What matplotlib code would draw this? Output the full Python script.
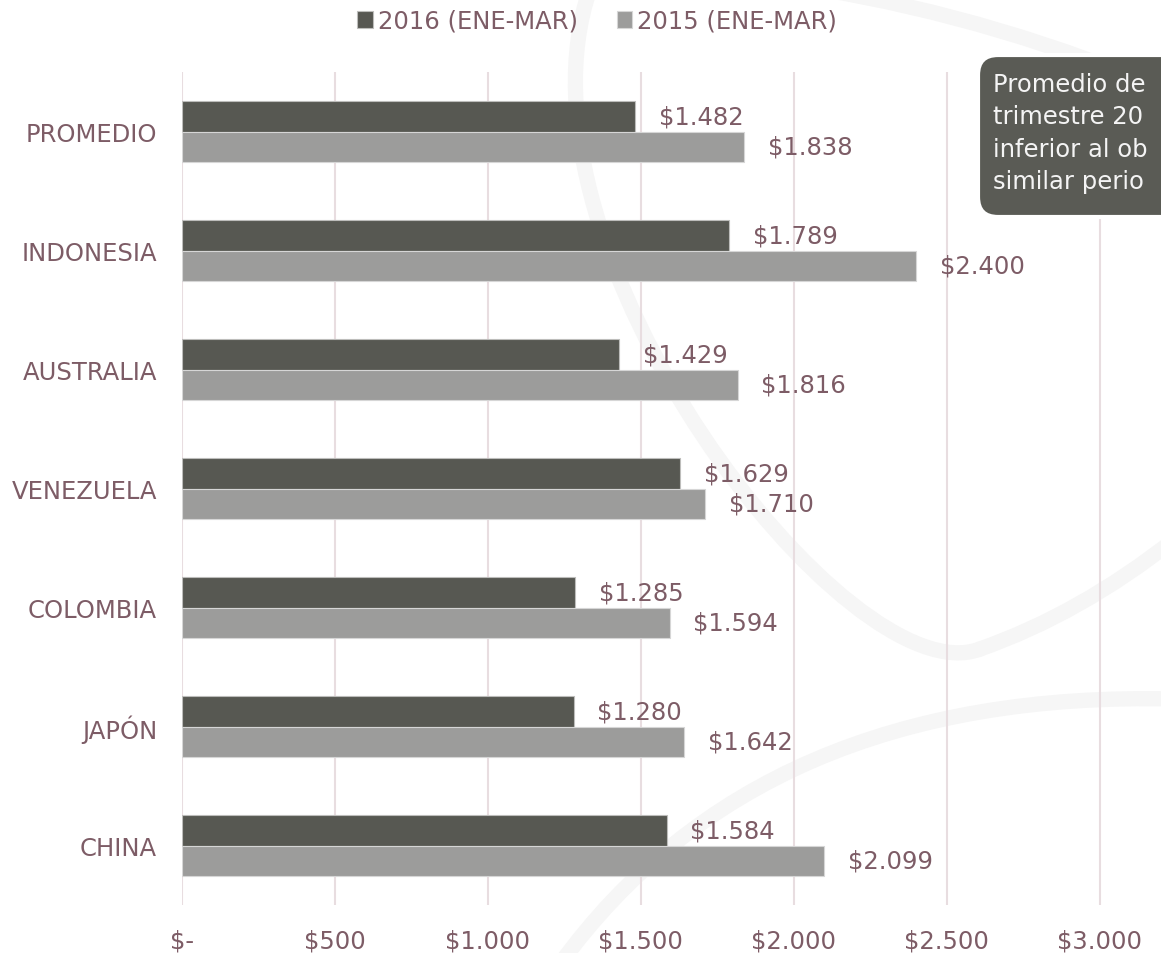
import numpy as np
import matplotlib
matplotlib.use("Agg")
import matplotlib.pyplot as plt
from matplotlib.path import Path
from matplotlib.patches import PathPatch, FancyBboxPatch

# data
paises = ["PROMEDIO", "INDONESIA", "AUSTRALIA", "VENEZUELA", "COLOMBIA", "JAPÓN", "CHINA"]
v2016 = [1482, 1789, 1429, 1629, 1285, 1280, 1584]
v2015 = [1838, 2400, 1816, 1710, 1594, 1642, 2099]
serie2016 = "2016 (ENE-MAR)"
serie2015 = "2015 (ENE-MAR)"
xticks = [0, 500, 1000, 1500, 2000, 2500, 3000]
# the callout is cut by the right edge in the original, only this part shows
nota = ["Promedio de", "trimestre 20", "inferior al ob", "similar perio"]

txt = "#7d5c66"
oscuro = "#575852"
claro = "#9c9c9b"
grid = "#e8dde0"
fs = 17.5

plt.rcParams["font.family"] = ["DejaVu Sans"]

W, H = 1161, 954
fig = plt.figure(figsize=(W / 100, H / 100), dpi=100)

# background layer in pixel coords (watermark)
bg = fig.add_axes([0, 0, 1, 1], zorder=0)
bg.set_xlim(0, W)
bg.set_ylim(H, 0)
bg.axis("off")

wm = "#f6f6f6"
curvas = [
    ([(590, -10), (500, 250), (850, 700), (980, 650)], [Path.MOVETO, Path.CURVE4, Path.CURVE4, Path.CURVE4]),
    ([(980, 650), (1080, 615), (1175, 540)], [Path.MOVETO, Path.CURVE3, Path.CURVE3]),
    ([(560, 965), (760, 690), (1175, 700)], [Path.MOVETO, Path.CURVE3, Path.CURVE3]),
    ([(820, -10), (1000, 20), (1175, 95)], [Path.MOVETO, Path.CURVE3, Path.CURVE3]),
]
for pts, codes in curvas:
    bg.add_patch(PathPatch(Path(pts, codes), fill=False, edgecolor=wm, lw=11, capstyle="round"))

# main axes
ax = fig.add_axes([182 / W, 1 - 906 / H, (W - 182) / W, (906 - 73) / H], zorder=1)
ax.patch.set_alpha(0)

y = np.arange(len(paises))
h = 0.26
b1 = ax.barh(y - h / 2, v2016, height=h, color=oscuro, edgecolor="#bdbdbb", linewidth=0.8,
             label=serie2016, zorder=2)
b2 = ax.barh(y + h / 2, v2015, height=h, color=claro, edgecolor="#d6d6d6", linewidth=0.8,
             label=serie2015, zorder=2)

def fmt(v):
    return "$" + f"{v:,.0f}".replace(",", ".")

for bars, vals in [(b1, v2016), (b2, v2015)]:
    for r, v in zip(bars, vals):
        ax.annotate(fmt(v), (v, r.get_y() + r.get_height() / 2), xytext=(17, 0),
                    textcoords="offset points", ha="left", va="center",
                    fontsize=fs, color=txt, zorder=3)

ax.set_xlim(0, 3200)
ax.set_ylim(len(paises) - 0.5, -0.5)
ax.set_yticks(y)
ax.set_yticklabels(paises)
ax.set_xticks(xticks)
ax.set_xticklabels(["$-" if t == 0 else fmt(t) for t in xticks])
ax.tick_params(axis="both", length=0, labelsize=fs, labelcolor=txt)
ax.tick_params(axis="y", pad=18)
ax.tick_params(axis="x", pad=17)
ax.grid(axis="x", color=grid, lw=1.5, zorder=0)
ax.set_axisbelow(True)
for s in ax.spines.values():
    s.set_visible(False)

fig.legend(handles=[b1, b2], labels=[serie2016, serie2015], loc="center",
           bbox_to_anchor=(597 / W, 1 - 22 / H), ncol=2, frameon=False,
           fontsize=fs, labelcolor=txt, handlelength=0.65, handleheight=0.65,
           handletextpad=0.2, columnspacing=1.6, borderaxespad=0)

# callout box
top = fig.add_axes([0, 0, 1, 1], zorder=2)
top.set_xlim(0, W)
top.set_ylim(H, 0)
top.axis("off")
top.add_patch(FancyBboxPatch((978, 56), 420, 162, boxstyle="round,pad=0,rounding_size=20",
                             facecolor="#5a5b55", edgecolor="white", lw=3))
for i, linea in enumerate(nota):
    top.text(993, 85 + 32.3 * i, linea, color="#f4f4f4", fontsize=fs, ha="left", va="center")

fig.savefig("out.png", dpi=100)
